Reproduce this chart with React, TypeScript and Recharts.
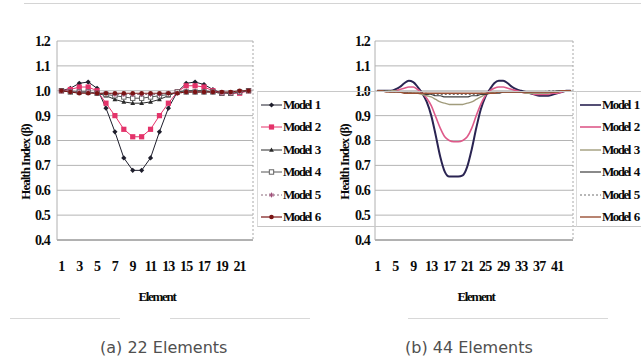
import { CartesianGrid, Line, LineChart, XAxis, YAxis } from 'recharts';

// Health index per element, 22-element model (a)
const model1_22 = [1.0, 1.01, 1.03, 1.035, 1.01, 0.93, 0.835, 0.73, 0.68, 0.68, 0.73, 0.835, 0.93, 0.995, 1.03, 1.035, 1.025, 1.005, 0.99, 0.99, 0.995, 1.0];
const model2_22 = [1.0, 1.005, 1.015, 1.015, 1.0, 0.95, 0.9, 0.845, 0.815, 0.815, 0.845, 0.9, 0.95, 0.995, 1.02, 1.02, 1.015, 1.0, 0.99, 0.99, 0.99, 1.0];
const model3_22 = [1.0, 0.995, 0.995, 0.995, 0.99, 0.98, 0.965, 0.955, 0.95, 0.95, 0.955, 0.965, 0.98, 0.995, 1.0, 1.0, 1.0, 0.995, 0.99, 0.99, 0.995, 1.0];
const model4_22 = [1.0, 0.995, 0.995, 0.995, 0.99, 0.985, 0.98, 0.975, 0.97, 0.97, 0.975, 0.98, 0.985, 0.995, 0.995, 0.995, 0.995, 0.995, 0.99, 0.99, 0.995, 1.0];
const model5_22 = [1.0, 1.0, 0.995, 0.995, 0.99, 0.99, 0.985, 0.985, 0.985, 0.985, 0.985, 0.985, 0.99, 0.99, 0.995, 0.995, 0.995, 0.995, 0.99, 0.99, 0.995, 1.0];
const model6_22 = [1.0, 0.995, 0.99, 0.99, 0.99, 0.99, 0.99, 0.99, 0.99, 0.99, 0.99, 0.99, 0.99, 0.99, 0.995, 0.995, 0.995, 0.995, 0.995, 0.995, 1.0, 1.0];

// 44-element model (b)
const model1_44 = [
  1.0, 1.0, 1.0, 1.0, 1.005, 1.015, 1.03, 1.04, 1.035, 1.015,
  0.99, 0.955, 0.9, 0.82, 0.735, 0.675, 0.655, 0.655, 0.655, 0.66,
  0.695, 0.765, 0.85, 0.925, 0.975, 1.005, 1.03, 1.04, 1.04, 1.03,
  1.015, 1.005, 1.0, 0.995, 0.99, 0.985, 0.98, 0.98, 0.98, 0.985,
  0.99, 0.995, 1.0, 1.0,
];
const model2_44 = [
  1.0, 1.0, 1.0, 1.0, 1.0, 1.005, 1.01, 1.015, 1.015, 1.005,
  0.99, 0.97, 0.94, 0.895, 0.85, 0.815, 0.8, 0.795, 0.795, 0.8,
  0.815, 0.85, 0.9, 0.945, 0.98, 1.0, 1.01, 1.015, 1.015, 1.01,
  1.005, 1.0, 0.995, 0.99, 0.99, 0.985, 0.985, 0.985, 0.985, 0.99,
  0.99, 0.995, 1.0, 1.0,
];
const model3_44 = [
  1.0, 1.0, 1.0, 1.0, 1.0, 0.995, 0.995, 0.995, 0.99, 0.99,
  0.985, 0.98, 0.975, 0.965, 0.955, 0.95, 0.945, 0.945, 0.945, 0.945,
  0.95, 0.955, 0.965, 0.975, 0.985, 0.99, 0.995, 0.995, 0.995, 0.995,
  0.995, 0.995, 0.995, 0.99, 0.99, 0.99, 0.99, 0.99, 0.99, 0.995,
  0.995, 1.0, 1.0, 1.0,
];
const model4_44 = [
  1.0, 1.0, 1.0, 0.995, 0.995, 0.995, 0.995, 0.99, 0.99, 0.99,
  0.99, 0.985, 0.985, 0.98, 0.98, 0.975, 0.975, 0.975, 0.975, 0.975,
  0.975, 0.98, 0.98, 0.985, 0.985, 0.99, 0.99, 0.99, 0.995, 0.995,
  0.995, 0.995, 0.995, 0.995, 0.995, 0.995, 0.995, 0.995, 0.995, 0.995,
  1.0, 1.0, 1.0, 1.0,
];
const model5_44 = [
  1.0, 1.0, 1.0, 1.0, 0.995, 0.995, 0.995, 0.99, 0.99, 0.99,
  0.99, 0.99, 0.985, 0.985, 0.985, 0.985, 0.985, 0.985, 0.985, 0.985,
  0.985, 0.985, 0.985, 0.99, 0.99, 0.99, 0.99, 0.995, 0.995, 0.995,
  0.995, 0.995, 0.995, 0.995, 0.995, 0.995, 0.995, 0.995, 1.0, 1.0,
  1.0, 1.0, 1.0, 1.0,
];
const model6_44 = [
  1.0, 1.0, 0.995, 0.995, 0.995, 0.995, 0.99, 0.99, 0.99, 0.99,
  0.99, 0.99, 0.99, 0.99, 0.99, 0.99, 0.99, 0.99, 0.99, 0.99,
  0.99, 0.99, 0.99, 0.99, 0.99, 0.99, 0.99, 0.995, 0.995, 0.995,
  0.995, 0.995, 0.995, 0.995, 0.995, 0.995, 0.995, 0.995, 0.995, 0.995,
  0.995, 1.0, 1.0, 1.0,
];

const seriesNames = ['Model 1', 'Model 2', 'Model 3', 'Model 4', 'Model 5', 'Model 6'];
const yTicks = [0.4, 0.5, 0.6, 0.7, 0.8, 0.9, 1.0, 1.1, 1.2];

const toRows = (cols: number[][]) =>
  cols[0].map((_, i) => {
    const row: Record<string, number> = { el: i + 1 };
    cols.forEach((c, k) => (row[`m${k + 1}`] = c[i]));
    return row;
  });

const rows22 = toRows([model1_22, model2_22, model3_22, model4_22, model5_22, model6_22]);
const rows44 = toRows([model1_44, model2_44, model3_44, model4_44, model5_44, model6_44]);

const SERIF = '"Liberation Serif", "Times New Roman", serif';

type Style = { color: string; width: number; dash?: string; marker?: string };

const style22: Style[] = [
  { color: '#1e1e2c', width: 1, marker: 'diamond' },
  { color: '#e4336a', width: 1, marker: 'square' },
  { color: '#2a2a2a', width: 1, marker: 'triangle' },
  { color: '#555555', width: 1, marker: 'open' },
  { color: '#8a6a7a', width: 1, dash: '2 2', marker: 'star' },
  { color: '#7a1414', width: 1.2, marker: 'circle' },
];

const style44: Style[] = [
  { color: '#2a2452', width: 2 },
  { color: '#de5a8a', width: 1.6 },
  { color: '#a19c7c', width: 1.4 },
  { color: '#3c3c3c', width: 1.2 },
  { color: '#707070', width: 1.2, dash: '2 2' },
  { color: '#9a5034', width: 1.4 },
];

function Marker({ kind, cx, cy, color }: { kind?: string; cx: number; cy: number; color: string }) {
  if (cx == null || cy == null) return null;
  switch (kind) {
    case 'diamond':
      return <path d={`M${cx},${cy - 2.6}L${cx + 2.6},${cy}L${cx},${cy + 2.6}L${cx - 2.6},${cy}Z`} fill={color} />;
    case 'square':
      return <rect x={cx - 2.6} y={cy - 2.6} width={5.2} height={5.2} fill={color} />;
    case 'triangle':
      return <path d={`M${cx},${cy - 2.6}L${cx + 2.4},${cy + 1.8}L${cx - 2.4},${cy + 1.8}Z`} fill={color} />;
    case 'open':
      return <rect x={cx - 2.2} y={cy - 2.2} width={4.4} height={4.4} fill="#fff" stroke={color} strokeWidth={0.9} />;
    case 'star':
      return (
        <path
          d={`M${cx - 2.4},${cy}H${cx + 2.4}M${cx},${cy - 2.4}V${cy + 2.4}M${cx - 1.7},${cy - 1.7}L${cx + 1.7},${cy + 1.7}M${cx - 1.7},${cy + 1.7}L${cx + 1.7},${cy - 1.7}`}
          stroke="#a0507a"
          strokeWidth={1}
        />
      );
    case 'circle':
      return <circle cx={cx} cy={cy} r={2.3} fill={color} />;
    default:
      return null;
  }
}

interface PanelProps {
  rows: Record<string, number>[];
  styles: Style[];
  width: number;
  yWidth: number;
  yGap: number;
  interval: number;
  pad: number;
  curve: 'linear' | 'monotone';
}

function Panel({ rows, styles, width, yWidth, yGap, interval, pad, curve }: PanelProps) {
  const tickFont = { fill: '#0a0a0a', fontSize: 14, fontWeight: 700, fontFamily: SERIF, letterSpacing: -0.8 };
  return (
    <LineChart
      width={width}
      height={310}
      data={rows}
      margin={{ top: 41, right: width - (yWidth + 198) + (width === 320 ? 2 : 0), left: 0, bottom: 40 }}
    >
      <CartesianGrid vertical={false} stroke="#b4b4b4" />
      <CartesianGrid
        horizontal={false}
        stroke="#a8a8a8"
        strokeDasharray="2 2"
        verticalCoordinatesGenerator={({ offset }: any) => [offset.left + offset.width]}
      />
      <XAxis
        dataKey="el"
        interval={interval}
        padding={{ left: pad, right: pad }}
        tickSize={0}
        tickMargin={21}
        tick={tickFont}
        axisLine={{ stroke: '#8a8a8a' }}
        height={30}
      />
      <YAxis
        domain={[0.4, 1.2]}
        ticks={yTicks}
        tickFormatter={(v: number) => v.toFixed(1)}
        tickSize={0}
        tickMargin={yGap}
        tick={tickFont}
        axisLine={{ stroke: '#b0b0b0' }}
        width={yWidth}
        allowDataOverflow
      />
      {styles.map((s, k) => (
        <Line
          key={k}
          dataKey={`m${k + 1}`}
          type={curve}
          stroke={s.color}
          strokeWidth={s.width}
          strokeDasharray={s.dash}
          isAnimationActive={false}
          dot={
            s.marker
              ? (p: any) => <Marker key={`${k}-${p.index}`} kind={s.marker} cx={p.cx} cy={p.cy} color={s.color} />
              : false
          }
          activeDot={false}
        />
      ))}
    </LineChart>
  );
}

function LegendBox({ left, styles }: { left: number; styles: Style[] }) {
  return (
    <div
      style={{
        position: 'absolute',
        left,
        top: 91,
        width: 640 - left,
        height: 134,
        borderTop: '1px solid #c8c8c8',
        borderBottom: '1px solid #c8c8c8',
        borderLeft: '1px solid #dcdcdc',
      }}
    >
      {seriesNames.map((name, k) => {
        const s = styles[k];
        return (
          <div
            key={name}
            style={{ position: 'absolute', left: 3, top: 4 + k * 22.5, height: 17, display: 'flex', alignItems: 'center', whiteSpace: 'nowrap' }}
          >
            <svg width={21} height={10}>
              <line x1={0} y1={5} x2={21} y2={5} stroke={s.color} strokeWidth={Math.min(s.width, 1.6)} strokeDasharray={s.dash} />
              <Marker kind={s.marker} cx={10.5} cy={5} color={s.color} />
            </svg>
            <span
              style={{ marginLeft: 1, fontFamily: SERIF, fontWeight: 700, fontSize: 13, letterSpacing: -1.5, wordSpacing: 2, color: '#0a0a0a' }}
            >
              {name}
            </span>
          </div>
        );
      })}
    </div>
  );
}

const axisText = { position: 'absolute' as const, fontFamily: SERIF, fontWeight: 700, color: '#0a0a0a', whiteSpace: 'nowrap' as const };

function YTitle({ x }: { x: number }) {
  return (
    <div
      style={{
        ...axisText,
        left: x,
        top: 162,
        fontSize: 13,
        letterSpacing: -1,
        transform: 'translate(-50%, -50%) rotate(-90deg)',
      }}
    >
      Health Index (β)
    </div>
  );
}

export default function App() {
  return (
    <div style={{ position: 'absolute', left: 0, top: 0, width: 641, height: 363, background: '#fff', overflow: 'hidden' }}>
      <div style={{ position: 'absolute', left: 24, top: 3, width: 617, borderTop: '1px solid #d4d4d4' }} />
      <div style={{ position: 'absolute', left: 0, top: 0 }}>
        <Panel rows={rows22} styles={style22} width={320} yWidth={57} yGap={7} interval={1} pad={4.45} curve="linear" />
      </div>
      <div style={{ position: 'absolute', left: 320, top: 0 }}>
        <Panel rows={rows44} styles={style44} width={321} yWidth={55} yGap={5} interval={3} pad={2.25} curve="monotone" />
      </div>
      <LegendBox left={257} styles={style22} />
      <LegendBox left={576} styles={style44} />
      <YTitle x={26} />
      <YTitle x={345} />
      <div style={{ ...axisText, left: 157, top: 297, fontSize: 13, letterSpacing: -1.3, transform: 'translate(-50%, -50%)' }}>Element</div>
      <div style={{ ...axisText, left: 476, top: 297, fontSize: 13, letterSpacing: -1.3, transform: 'translate(-50%, -50%)' }}>Element</div>
      <div style={{ position: 'absolute', left: 10, top: 318, width: 110, borderTop: '1px solid #d8d8d8' }} />
      <div style={{ position: 'absolute', left: 170, top: 318, width: 140, borderTop: '1px solid #d8d8d8' }} />
      <div style={{ position: 'absolute', left: 408, top: 318, width: 200, borderTop: '1px solid #d8d8d8' }} />
      <div style={{ position: 'absolute', left: 100, top: 338, fontFamily: '"DejaVu Sans", sans-serif', fontSize: 16, color: '#505050', whiteSpace: 'nowrap' }}>
        (a) 22 Elements
      </div>
      <div style={{ position: 'absolute', left: 405, top: 338, fontFamily: '"DejaVu Sans", sans-serif', fontSize: 16, color: '#505050', whiteSpace: 'nowrap' }}>
        (b) 44 Elements
      </div>
    </div>
  );
}
